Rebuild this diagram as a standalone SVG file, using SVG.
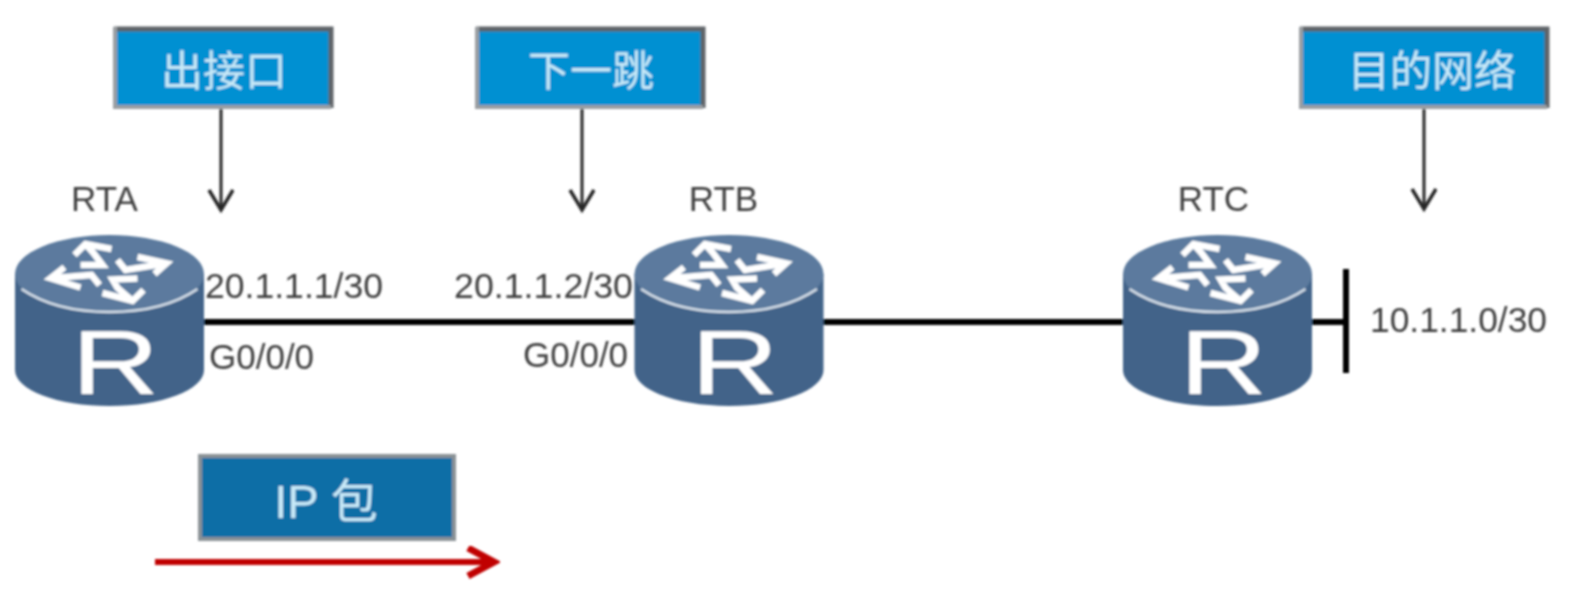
<svg xmlns="http://www.w3.org/2000/svg" xmlns:xlink="http://www.w3.org/1999/xlink" width="1582" height="592" viewBox="0 0 1582 592">
<style>
.lbl{font-family:"Liberation Sans",Arial,sans-serif;font-size:35px;fill:#404040}
.cap{font-family:"Liberation Sans","Noto Sans CJK SC",sans-serif;font-size:42px;fill:#c8e9f8;text-anchor:middle}
.box{fill:#0690d2}
.edge{stroke:#5f6468;stroke-width:5;fill:none}
.edge2{stroke:#9a9ea2;stroke-width:4;fill:none}
.wire{stroke:#000;stroke-width:6;fill:none}
.note{stroke:#262626;stroke-width:3;fill:none}
.ra{stroke:#fff;stroke-width:6.500;fill:none;stroke-linejoin:miter}
</style>
<defs>
<filter id="soft" x="0" y="0" width="100%" height="100%" filterUnits="userSpaceOnUse"><feGaussianBlur stdDeviation="0.9"/></filter>
<marker id="open" markerUnits="userSpaceOnUse" markerWidth="30" markerHeight="30" refX="27" refY="13" orient="auto"><path d="M7 1 L27 13 L7 25" fill="none" stroke="#262626" stroke-width="3.500"/></marker>
<marker id="red" markerUnits="userSpaceOnUse" markerWidth="36" markerHeight="36" refX="30" refY="16" orient="auto"><path d="M4 2 L30 16 L4 30" fill="none" stroke="#c00000" stroke-width="7"/></marker>
<g id="router">
<path d="M-94.500 0 V96 C-94.500 116 -52 132 0 132 C52 132 94.500 116 94.500 96 V0 Z" fill="#436389"/>
<ellipse cx="0" cy="0" rx="94.500" ry="39" fill="#5b7a9e"/>
<path d="M-88 15 C-66 30 -35 38 0 38 C35 38 66 30 88 15" fill="none" stroke="#d5dfe9" stroke-width="2.500"/>
<path class="ra" d="M-35 -19 L-24 -30 L2 -25 M-24 -30 L-16 -21 L-7 -9 L-29 -9"/>
<path class="ra" d="M28 -17 L57 -10.700 L45 0 M57 -10.700 L16 -4 L8 -14"/>
<path class="ra" d="M-45 -6.700 L-59 4.300 L-29 13.500 M-59 4.300 L-18 1 L-10 11"/>
<path class="ra" d="M-7 19 L23 27 L34 16 M23 27 L8 14 L3 5.500 L28 4.500"/>
<text x="0" y="120" font-family="'Liberation Sans',Arial,sans-serif" font-size="90" fill="#fff" text-anchor="middle" transform="translate(6 0) scale(1.350 1)">R</text>
</g>
</defs>
<rect width="1582" height="592" fill="#fff"/>
<g filter="url(#soft)">
<g id="connectors">
<line class="wire" x1="200" y1="322" x2="1346" y2="322"/>
<line x1="1346" y1="269" x2="1346" y2="373" stroke="#000" stroke-width="6"/>
<line class="note" x1="221" y1="108" x2="221" y2="210" marker-end="url(#open)"/>
<line class="note" x1="582" y1="108" x2="582" y2="210" marker-end="url(#open)"/>
<line class="note" x1="1424" y1="108" x2="1424" y2="209" marker-end="url(#open)"/>
<line x1="155" y1="562" x2="494" y2="562" stroke="#c00000" stroke-width="6" marker-end="url(#red)"/>
</g>
<g id="RTA"><use xlink:href="#router" href="#router" x="109.500" y="274"/><text class="lbl" x="104.500" y="211" text-anchor="middle">RTA</text></g>
<g id="RTB"><use xlink:href="#router" href="#router" x="729" y="274"/><text class="lbl" x="723.500" y="211" text-anchor="middle">RTB</text></g>
<g id="RTC"><use xlink:href="#router" href="#router" x="1217.500" y="274"/><text class="lbl" x="1213.500" y="211" text-anchor="middle">RTC</text></g>
<g id="labels">
<text class="lbl" x="205" y="298" textLength="178" lengthAdjust="spacingAndGlyphs">20.1.1.1/30</text>
<text class="lbl" x="454" y="298" textLength="179" lengthAdjust="spacingAndGlyphs">20.1.1.2/30</text>
<text class="lbl" x="209" y="369">G0/0/0</text>
<text class="lbl" x="523" y="367">G0/0/0</text>
<text class="lbl" x="1370" y="332" textLength="177" lengthAdjust="spacingAndGlyphs">10.1.1.0/30</text>
</g>
<g id="box-out">
<rect class="box" x="115" y="27" width="215" height="80"/>
<path class="edge" d="M114 29 H331 V108"/><path class="edge2" d="M115 27 V107 H331"/>
<text class="cap" x="224" y="86">出接口</text>
</g>
<g id="box-next">
<rect class="box" x="477" y="27" width="225" height="80"/>
<path class="edge" d="M476 29 H703 V108"/><path class="edge2" d="M477 27 V107 H703"/>
<text class="cap" x="591" y="86">下一跳</text>
</g>
<g id="box-dest">
<rect class="box" x="1301" y="27" width="245" height="80"/>
<path class="edge" d="M1300 29 H1547 V108"/><path class="edge2" d="M1301 27 V107 H1547"/>
<text class="cap" x="1432" y="86">目的网络</text>
</g>
<g id="box-ip">
<rect x="200" y="456" width="254" height="83" fill="#0a6ea6" stroke="#8a9296" stroke-width="4"/>
<text class="cap" x="326" y="518" style="font-size:47px">IP 包</text>
</g>
</g>
</svg>
